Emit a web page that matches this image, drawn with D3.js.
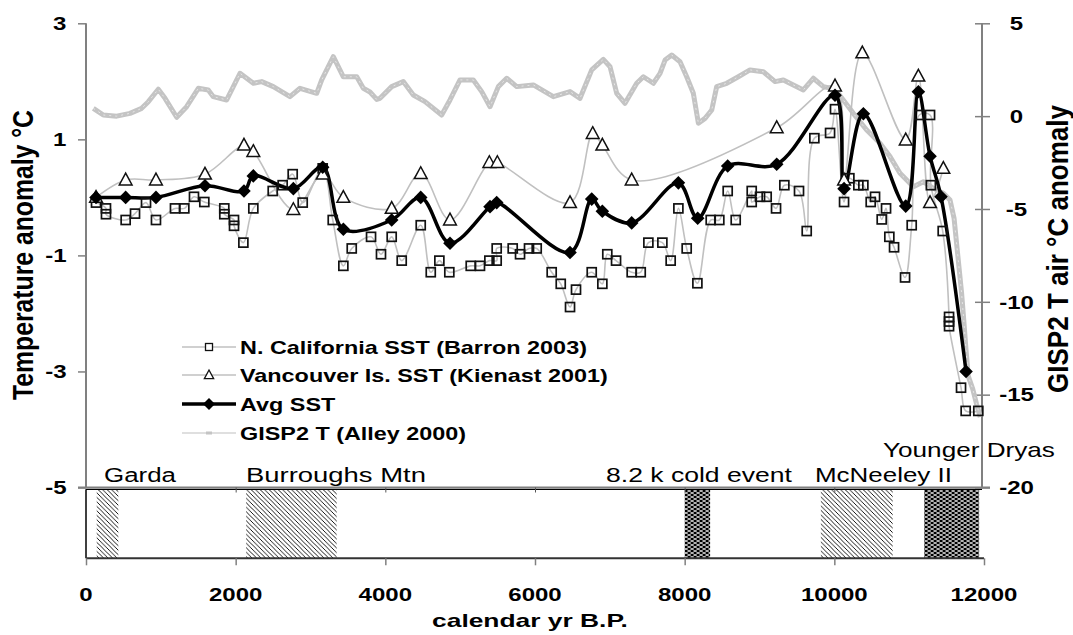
<!DOCTYPE html>
<html><head><meta charset="utf-8">
<script src="https://cdn.jsdelivr.net/npm/d3@7"></script>
<style>
body{margin:0;background:#fff}
svg{display:block}
text{font-family:"Liberation Sans",Arial,sans-serif}
</style>
</head><body>
<svg id="c" width="1073" height="635"></svg>
<script>
// ---------------- DATA ----------------
const xTicks = [0, 2000, 4000, 6000, 8000, 10000, 12000];
const yLeftTicks = [3, 1, -1, -3, -5];
const yRightTicks = [5, 0, -5, -10, -15, -20];

const nCalYears = [134,267,267,530,655,802,935,1189,1314,1443,1581,1848,1848,1978,1978,2103,2236,2495,2628,2762,2896,3163,3297,3439,3551,3809,3942,4085,4219,4473,4607,4722,4855,5141,5265,5390,5488,5488,5702,5800,5920,6023,6223,6344,6468,6548,6758,6900,6966,7083,7292,7413,7515,7702,7813,7916,8027,8170,8348,8463,8575,8682,8896,8896,9007,9096,9221,9332,9528,9631,9733,9943,10009,10130,10201,10321,10388,10486,10544,10633,10691,10735,10798,10945,11034,11136,11279,11290,11448,11533,11533,11533,11693,11755,11924];
const nCalSST = [-0.09,-0.19,-0.29,-0.39,-0.28,-0.09,-0.39,-0.19,-0.19,0.01,-0.08,-0.19,-0.29,-0.39,-0.49,-0.78,-0.19,0.11,0.21,0.40,-0.09,0.50,-0.39,-1.18,-0.88,-0.68,-0.98,-0.68,-1.09,-0.48,-1.29,-1.09,-1.29,-1.18,-1.18,-1.09,-1.09,-0.88,-0.88,-0.98,-0.88,-0.88,-1.29,-1.49,-1.89,-1.59,-1.29,-1.49,-0.98,-1.09,-1.29,-1.29,-0.78,-0.78,-1.09,-0.19,-0.88,-1.48,-0.39,-0.39,0.11,-0.39,0.11,-0.08,0.01,0.01,-0.19,0.21,0.11,-0.58,1.02,1.11,1.52,-0.08,0.33,0.21,0.21,-0.08,0.01,-0.38,-0.19,-0.68,-0.86,-1.38,-0.48,1.42,1.42,0.21,-0.58,-2.06,-2.14,-2.22,-3.28,-3.68,-3.68];

const vanYears = [134,530,935,1590,2111,2236,2771,3163,3439,4085,4473,4864,5390,5497,6468,6771,6900,7292,9230,10009,10130,10374,10954,11123,11279,11457];
const vanSST = [0.0,0.30,0.30,0.40,0.90,0.79,-0.21,0.40,0.0,-0.19,0.41,-0.39,0.60,0.60,-0.09,1.10,0.90,0.30,1.20,1.92,0.30,2.49,0.99,2.09,-0.09,0.50];

const avgYears = [134,530,935,1590,2111,2236,2771,3163,3439,4085,4473,4864,5399,5488,6468,6758,6900,7292,7916,8174,8575,9230,10009,10130,10388,10954,11123,11279,11426,11760];
const avgSST = [0.0,0.0,0.0,0.2,0.11,0.37,0.15,0.52,-0.55,-0.39,0.0,-0.79,-0.16,-0.09,-0.95,-0.03,-0.24,-0.44,0.25,-0.36,0.54,0.57,1.76,0.15,1.44,-0.15,1.82,0.71,0.01,-3.0];

const gispYears = [98,231,410,588,744,833,966,1056,1212,1345,1501,1634,1701,1880,2058,2236,2348,2503,2726,2860,3083,3150,3305,3439,3618,3706,3795,3885,3929,4085,4240,4374,4530,4753,4864,4998,5176,5288,5399,5510,5622,5756,5978,6245,6468,6602,6758,6913,7003,7092,7203,7359,7448,7582,7671,7738,7827,7938,8027,8116,8183,8272,8362,8428,8562,8717,8873,9051,9208,9319,9452,9586,9719,9853,10009,10120,10254,10432,10610,10744,10878,11056,11190,11323,11457,11546,11600,11650,11700,11730,11760,11790,11850,11900,11950];
const gispT = [0.42,0.06,0.0,0.15,0.42,0.78,1.45,0.96,-0.06,0.51,1.5,1.41,1.05,0.87,2.31,1.77,1.86,1.59,1.05,1.5,1.23,1.95,3.2,2.12,2.12,1.5,1.3,0.9,0.96,1.59,1.86,1.14,0.78,0.06,0.87,1.95,1.95,1.32,0.51,1.59,2.04,1.59,1.68,1.05,1.32,0.96,2.49,3.06,2.66,1.23,0.69,1.77,2.12,1.77,2.3,3.02,3.29,2.93,2.12,1.23,-0.38,-0.12,0.33,1.59,1.77,2.12,2.49,2.39,1.86,1.95,1.68,1.41,2.04,1.59,1.45,0.87,0.15,-0.75,-1.46,-2.18,-3.08,-3.8,-3.53,-3.89,-4.15,-4.52,-5.5,-7.5,-9.5,-11,-12.6,-14,-14.7,-15.5,-16.2];

const eventNames = ["Garda","Burroughs Mtn","8.2 k cold event","McNeeley II","Younger Dryas"];
const eventStart = [143,2140,8000,9820,11200];
const eventEnd = [432,3350,8340,10780,11935];
const eventFill = ["hatch","hatch","dots","hatch","dots"];

const legendLabels = ["N. California SST (Barron 2003)","Vancouver Is. SST (Kienast 2001)","Avg SST","GISP2 T (Alley 2000)"];

// ---------------- CHART ----------------
const svg = d3.select("#c");
const x = d3.scaleLinear().domain([0,12000]).range([86,984]);
const yL = d3.scaleLinear().domain([-5,3]).range([487.5,23.3]);
const yR = d3.scaleLinear().domain([-20,5]).range([487.5,23.3]);
const AX = "#808080";
const LG = "#c0c0c0";

const defs = svg.append("defs");
const ph = defs.append("pattern").attr("id","hatch").attr("patternUnits","userSpaceOnUse").attr("width",4.5).attr("height",4.5);
ph.append("rect").attr("width",4.5).attr("height",4.5).attr("fill","#fff");
ph.append("path").attr("d","M-1,-1L5.5,5.5M-1,3.5L1,5.5M3.5,-1L5.5,1").attr("stroke","#000").attr("stroke-width",0.9);
const pd = defs.append("pattern").attr("id","dots").attr("patternUnits","userSpaceOnUse").attr("width",6).attr("height",4);
pd.append("rect").attr("width",6).attr("height",4).attr("fill","#000");
pd.append("rect").attr("x",0.5).attr("y",0.3).attr("width",3.2).attr("height",1.4).attr("fill","#fff");
pd.append("rect").attr("x",3.5).attr("y",2.3).attr("width",3.2).attr("height",1.4).attr("fill","#fff");
pd.append("rect").attr("x",-2.5).attr("y",2.3).attr("width",3.2).attr("height",1.4).attr("fill","#fff");

function addText(str, px, py, o){
  const t = svg.append("text").text(str)
    .attr("font-size",o.size).attr("font-weight",o.weight||"normal")
    .attr("text-anchor",o.anchor||"start").attr("fill","#000");
  const len = t.node().getComputedTextLength();
  if(o.rotate){
    const k = o.width ? o.width/len : 1;
    t.attr("transform",`translate(${px},${py}) scale(${o.sx||1.3},1) rotate(-90) scale(${k},1)`);
  } else {
    const k = o.width ? o.width/len : (o.sx||1.3);
    t.attr("transform",`translate(${px},${py}) scale(${k},1)`);
  }
  return t;
}

// lower panel events
const lowTop = 489.3, lowBot = 558.3;
svg.append("g").selectAll("rect").data(eventNames).join("rect")
  .attr("x",(d,i)=>x(eventStart[i])).attr("width",(d,i)=>x(eventEnd[i])-x(eventStart[i]))
  .attr("y",lowTop).attr("height",lowBot-lowTop)
  .attr("fill",(d,i)=>`url(#${eventFill[i]})`);
// lower panel frame
svg.append("line").attr("x1",86).attr("x2",982).attr("y1",lowTop).attr("y2",lowTop).attr("stroke","#000").attr("stroke-width",1.2);
svg.append("line").attr("x1",86).attr("x2",86).attr("y1",lowTop).attr("y2",lowBot).attr("stroke","#000").attr("stroke-width",1.5);
svg.append("line").attr("x1",86).attr("x2",984).attr("y1",lowBot).attr("y2",lowBot).attr("stroke","#333").attr("stroke-width",2);

// bottom axis
const xAxis = d3.axisBottom(x).tickValues(xTicks).tickSize(7).tickFormat("");
const gx = svg.append("g").attr("transform",`translate(0,${lowBot})`).call(xAxis);
gx.select(".domain").remove();
gx.selectAll(".tick line").attr("stroke",AX).attr("stroke-width",1.5);
xTicks.forEach(v=>addText(String(v), x(v), 600.5, {size:18.5, weight:"bold", anchor:"middle", sx:1.3}));
addText("calendar yr B.P.", 530, 627, {size:18.5, weight:"bold", anchor:"middle", width:196});

// upper x-axis line at -5 with small ticks
svg.append("line").attr("x1",78).attr("x2",990).attr("y1",yL(-5)).attr("y2",yL(-5)).attr("stroke",AX).attr("stroke-width",2);
const xAxisTop = d3.axisBottom(x).tickValues(xTicks.slice(1,6)).tickSize(5).tickFormat("");
const gxt = svg.append("g").attr("transform",`translate(0,${yL(-5)})`).call(xAxisTop);
gxt.select(".domain").remove();
gxt.selectAll(".tick line").attr("stroke","#555").attr("stroke-width",1);

// left axis
const yAxisL = d3.axisLeft(yL).tickValues(yLeftTicks).tickSize(8).tickFormat("");
const gyl = svg.append("g").attr("transform","translate(86,0)").call(yAxisL);
gyl.select(".domain").attr("stroke",AX).attr("stroke-width",2).attr("d",`M0,${yL(3)}V${yL(-5)}`);
gyl.selectAll(".tick line").attr("stroke",AX).attr("stroke-width",1.5);
yLeftTicks.forEach(v=>addText(String(v), 66.5, yL(v)+6.7, {size:18.5, weight:"bold", anchor:"end", sx:1.3}));

// right axis
const yAxisR = d3.axisRight(yR).tickValues(yRightTicks).tickSize(8).tickFormat("");
const gyr = svg.append("g").attr("transform","translate(982,0)").call(yAxisR);
gyr.select(".domain").attr("stroke",AX).attr("stroke-width",2).attr("d",`M0,${yR(5)}V${yR(-20)}`);
gyr.selectAll(".tick line").attr("stroke",AX).attr("stroke-width",1.5).attr("x1",-7);
yRightTicks.forEach(v=>addText(String(v), 1016.5, yR(v)+6.7, {size:18.5, weight:"bold", anchor:"middle", sx:1.3}));

// axis titles
addText("Temperature anomaly °C", 33, 255, {size:22, weight:"bold", anchor:"middle", rotate:true, width:290, sx:1.3});
addText("GISP2 T air °C anomaly", 1068, 249, {size:22, weight:"bold", anchor:"middle", rotate:true, width:288, sx:1.3});

// event labels
addText(eventNames[0], 104, 481.5, {size:21, width:72});
addText(eventNames[1], 246, 481.5, {size:21, width:180});
addText(eventNames[2], 606, 481.5, {size:21, width:186});
addText(eventNames[3], 815, 481.5, {size:21, width:137});
addText(eventNames[4], 883, 457, {size:21, width:172});

// ---------------- SERIES ----------------
const gisp = gispYears.map((d,i)=>[d,gispT[i]]);
const ncal = nCalYears.map((d,i)=>[d,nCalSST[i]]);
const van = vanYears.map((d,i)=>[d,vanSST[i]]);
const avg = avgYears.map((d,i)=>[d,avgSST[i]]);

const lineR = d3.line().x(d=>x(d[0])).y(d=>yR(d[1])).curve(d3.curveLinear);
const lineL = d3.line().x(d=>x(d[0])).y(d=>yL(d[1])).curve(d3.curveCatmullRom.alpha(0.5));

svg.append("path").datum(gisp).attr("d",lineR).attr("fill","none").attr("stroke","#c4c4c4").attr("stroke-width",5).attr("stroke-linejoin","round");
svg.append("path").datum(gisp).attr("d",lineR).attr("fill","none").attr("stroke","#e6e6e6").attr("stroke-width",1).attr("stroke-dasharray","2,4");
svg.append("path").datum(ncal).attr("d",lineL).attr("fill","none").attr("stroke",LG).attr("stroke-width",1.6);
svg.append("path").datum(van).attr("d",lineL).attr("fill","none").attr("stroke",LG).attr("stroke-width",1.6);
svg.append("path").datum(avg).attr("d",lineL).attr("fill","none").attr("stroke","#000").attr("stroke-width",3.5);

svg.append("g").selectAll("rect").data(ncal).join("rect")
  .attr("x",d=>x(d[0])-4.5).attr("y",d=>yL(d[1])-4.5).attr("width",9).attr("height",9)
  .attr("fill","none").attr("stroke","#111").attr("stroke-width",1.7);
const tri = (cx,cy,s)=>`M${cx},${cy-s*0.62}L${cx+s*0.58},${cy+s*0.45}L${cx-s*0.58},${cy+s*0.45}Z`;
svg.append("g").selectAll("path").data(van).join("path")
  .attr("d",d=>tri(x(d[0]),yL(d[1]),11)).attr("fill","#fff").attr("stroke","#111").attr("stroke-width",1.5);
const dia = (cx,cy,s)=>`M${cx},${cy-s}L${cx+s},${cy}L${cx},${cy+s}L${cx-s},${cy}Z`;
svg.append("g").selectAll("path").data(avg).join("path")
  .attr("d",d=>dia(x(d[0]),yL(d[1]),6.8)).attr("fill","#000");

// ---------------- LEGEND ----------------
const legY = [347,375,404,433];
const lx1 = 182, lx2 = 236, lmx = 209;
svg.append("line").attr("x1",lx1).attr("x2",lx2).attr("y1",legY[0]).attr("y2",legY[0]).attr("stroke",LG).attr("stroke-width",1.6);
svg.append("rect").attr("x",lmx-3.5).attr("y",legY[0]-3.5).attr("width",7).attr("height",7).attr("fill","#fff").attr("stroke","#111").attr("stroke-width",1.3);
svg.append("line").attr("x1",lx1).attr("x2",lx2).attr("y1",legY[1]).attr("y2",legY[1]).attr("stroke",LG).attr("stroke-width",1.6);
svg.append("path").attr("d",tri(lmx,legY[1],8)).attr("fill","#fff").attr("stroke","#111").attr("stroke-width",1.3);
svg.append("line").attr("x1",lx1).attr("x2",lx2).attr("y1",legY[2]).attr("y2",legY[2]).attr("stroke","#000").attr("stroke-width",3.5);
svg.append("path").attr("d",dia(lmx,legY[2],6)).attr("fill","#000");
svg.append("line").attr("x1",lx1).attr("x2",lx2).attr("y1",legY[3]).attr("y2",legY[3]).attr("stroke",LG).attr("stroke-width",1.2);
svg.append("rect").attr("x",lmx-3).attr("y",legY[3]-1.5).attr("width",6).attr("height",3).attr("fill","#c4c4c4");
legendLabels.forEach((s,i)=>addText(s, 240, legY[i]+6.5, {size:18, weight:"bold", sx:1.3}));
</script>
</body></html>
